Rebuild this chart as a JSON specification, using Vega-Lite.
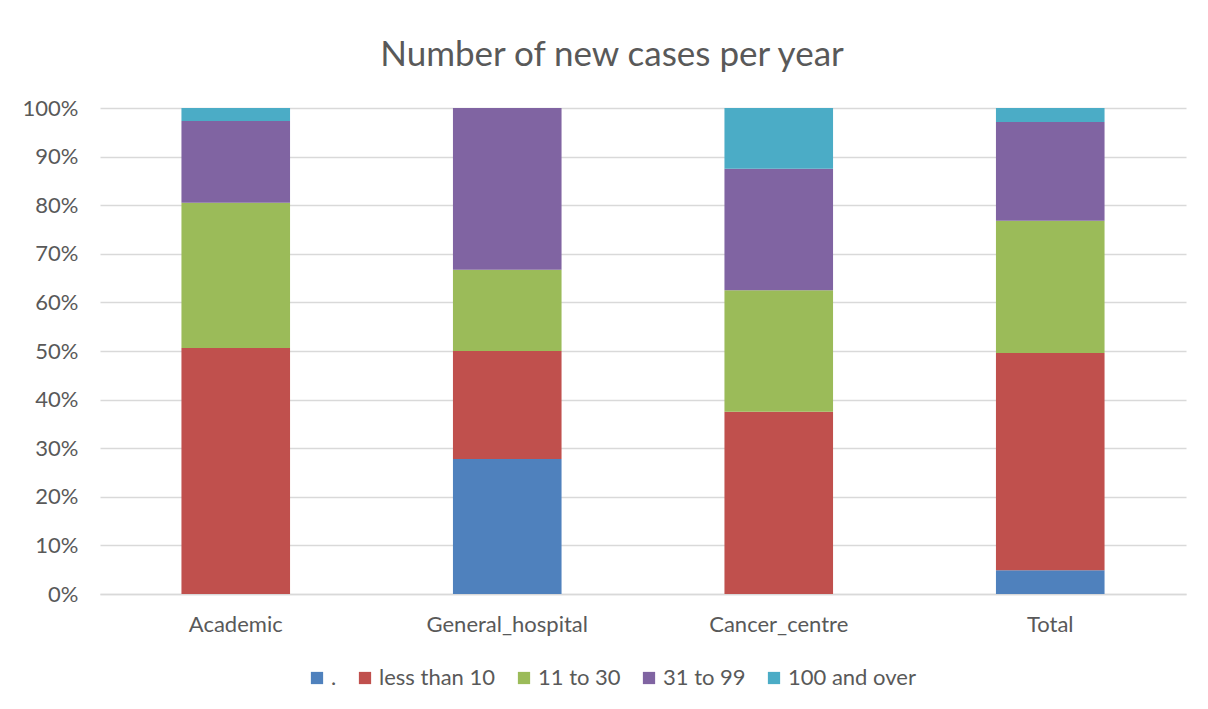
{
  "$schema": "https://vega.github.io/schema/vega-lite/v6.json",
  "autosize": "none",
  "width": 1086,
  "height": 486,
  "padding": {"left": 100, "top": 108, "right": 22, "bottom": 115},
  "background": "white",
  "title": {
    "text": "Number of new cases per year",
    "font": "Lato",
    "fontSize": 35,
    "fontWeight": "normal",
    "color": "#595959",
    "anchor": "middle",
    "offset": 24,
    "dx": -31
  },
  "data": {
    "values": [
      {"site": "Academic", "cases": ".", "k": 1, "pct": 0},
      {"site": "Academic", "cases": "less than 10", "k": 2, "pct": 50.6},
      {"site": "Academic", "cases": "11 to 30", "k": 3, "pct": 29.9},
      {"site": "Academic", "cases": "31 to 99", "k": 4, "pct": 16.8},
      {"site": "Academic", "cases": "100 and over", "k": 5, "pct": 2.7},
      {"site": "General_hospital", "cases": ".", "k": 1, "pct": 27.8},
      {"site": "General_hospital", "cases": "less than 10", "k": 2, "pct": 22.2},
      {"site": "General_hospital", "cases": "11 to 30", "k": 3, "pct": 16.7},
      {"site": "General_hospital", "cases": "31 to 99", "k": 4, "pct": 33.3},
      {"site": "General_hospital", "cases": "100 and over", "k": 5, "pct": 0},
      {"site": "Cancer_centre", "cases": ".", "k": 1, "pct": 0},
      {"site": "Cancer_centre", "cases": "less than 10", "k": 2, "pct": 37.5},
      {"site": "Cancer_centre", "cases": "11 to 30", "k": 3, "pct": 25},
      {"site": "Cancer_centre", "cases": "31 to 99", "k": 4, "pct": 25},
      {"site": "Cancer_centre", "cases": "100 and over", "k": 5, "pct": 12.5},
      {"site": "Total", "cases": ".", "k": 1, "pct": 4.9},
      {"site": "Total", "cases": "less than 10", "k": 2, "pct": 44.7},
      {"site": "Total", "cases": "11 to 30", "k": 3, "pct": 27.2},
      {"site": "Total", "cases": "31 to 99", "k": 4, "pct": 20.3},
      {"site": "Total", "cases": "100 and over", "k": 5, "pct": 2.9}
    ]
  },
  "mark": {"type": "bar"},
  "encoding": {
    "x": {
      "field": "site",
      "type": "nominal",
      "sort": ["Academic", "General_hospital", "Cancer_centre", "Total"],
      "scale": {"paddingInner": 0.6, "paddingOuter": 0.3},
      "axis": {
        "title": null,
        "labelAngle": 0,
        "ticks": false,
        "labelPadding": 20,
        "domainColor": "#d9d9d9",
        "domainWidth": 1.3
      }
    },
    "y": {
      "field": "pct",
      "type": "quantitative",
      "stack": "normalize",
      "scale": {"domain": [0, 1], "nice": false},
      "axis": {
        "title": null,
        "format": ".0%",
        "values": [0, 0.1, 0.2, 0.3, 0.4, 0.5, 0.6, 0.7, 0.8, 0.9, 1],
        "labelOverlap": false,
        "ticks": false,
        "domain": false,
        "labelPadding": 22,
        "gridColor": "#d9d9d9",
        "gridWidth": 1.3
      }
    },
    "color": {
      "field": "cases",
      "type": "nominal",
      "scale": {
        "domain": [".", "less than 10", "11 to 30", "31 to 99", "100 and over"],
        "range": ["#4F81BD", "#C0504D", "#9BBB59", "#8064A2", "#4BACC6"]
      },
      "legend": {
        "title": null,
        "orient": "none",
        "direction": "horizontal",
        "legendX": 206,
        "legendY": 559,
        "symbolType": "square",
        "symbolSize": 150,
        "symbolStrokeWidth": 0,
        "labelFont": "Lato",
        "labelFontSize": 22,
        "labelColor": "#595959",
        "columnPadding": 17,
        "labelOffset": 3
      }
    },
    "order": {"field": "k", "type": "quantitative"}
  },
  "config": {
    "axis": {
      "labelFont": "Lato",
      "labelFontSize": 22,
      "labelColor": "#595959"
    },
    "view": {"stroke": null}
  }
}
